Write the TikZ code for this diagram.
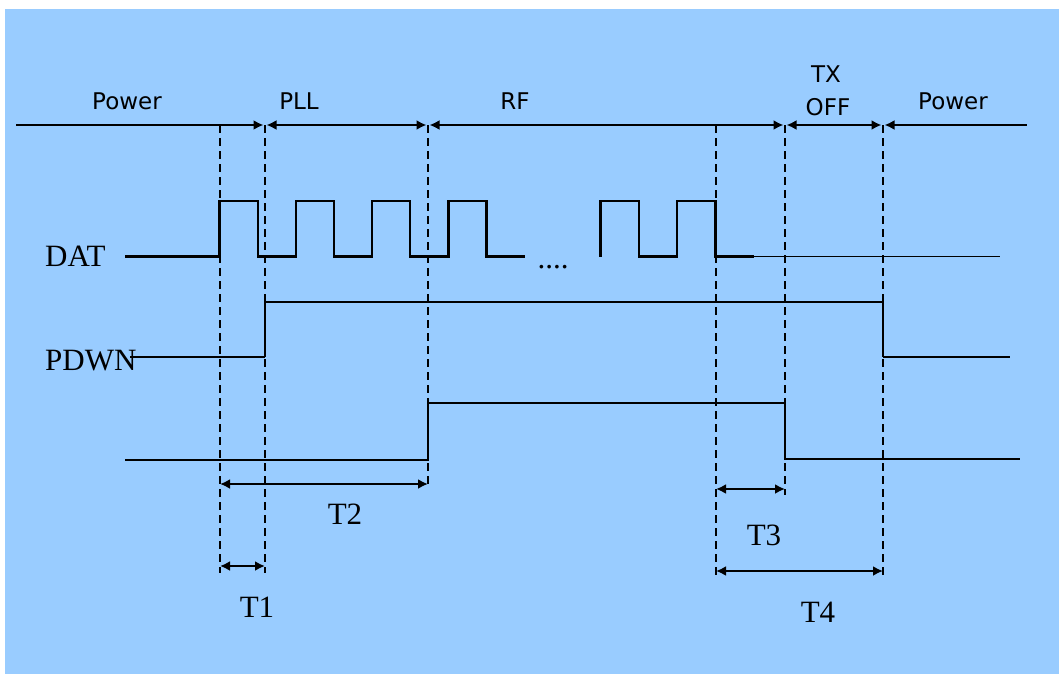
\documentclass[tikz,border=0pt]{standalone}
\usepackage{fontspec}
\setmainfont{Liberation Serif}
\newfontfamily\sansf{DejaVu Sans}
\usetikzlibrary{arrows.meta}
\definecolor{bgblue}{HTML}{99CCFF}
\tikzset{
  wave/.style={line width=2.4pt, line join=miter},
  thinwave/.style={line width=1.8pt, line join=miter},
  axisline/.style={line width=2.8pt, >={Latex[length=10pt,width=10pt]}},
  guide/.style={line width=2.3pt, dash pattern=on 8pt off 5pt},
  dim/.style={line width=2.6pt, >={Latex[length=10pt,width=10pt]}, <->},
  phase/.style={font=\sansf\fontsize{23}{27}\selectfont, anchor=base, inner sep=0pt},
  sig/.style={font=\fontsize{31}{36}\selectfont, anchor=base west, inner sep=0pt},
  tlabel/.style={font=\fontsize{31}{36}\selectfont, anchor=base, inner sep=0pt}
}
\begin{document}
\begin{tikzpicture}[x=1pt,y=-1pt]
\useasboundingbox (0,0) rectangle (1059,674);
\fill[white] (0,0) rectangle (1059,674);
\fill[bgblue] (5,9) rectangle (1059,674);

% dashed guides
\draw[guide] (220,125) -- (220,573);
\draw[guide] (265,125) -- (265,573);
\draw[guide] (428,125) -- (428,488);
\draw[guide] (716,125) -- (716,575);
\draw[guide] (785,125) -- (785,495);
\draw[guide] (883,125) -- (883,575);

% top phase line
\coordinate (p0) at (16,125);
\coordinate (p1l) at (263.5,125); \coordinate (p1r) at (266.5,125);
\coordinate (p2l) at (426.5,125); \coordinate (p2r) at (429.5,125);
\coordinate (p4l) at (783.5,125); \coordinate (p4r) at (786.5,125);
\coordinate (p5l) at (881.5,125); \coordinate (p5r) at (884.5,125);
\coordinate (p6) at (1027,125);
\draw[axisline,->] (p0) -- (p1l);
\draw[axisline,<->] (p1r) -- (p2l);
\draw[axisline,<->] (p2r) -- (p4l);
\draw[axisline,<->] (p4r) -- (p5l);
\draw[axisline,<-] (p5r) -- (p6);

\node[phase] (lpow1) at (127,110) {Power};
\node[phase] (lpll) at (299,110) {PLL};
\node[phase] (lrf) at (515,110) {RF};
\node[phase] (ltx) at (826,83) {TX};
\node[phase] (loff) at (828,115) {OFF};
\node[phase] (lpow2) at (953,110) {Power};

% signal labels
\node[sig] (ldat) at (45,266) {DAT};
\node[sig] (lpdwn) at (45,370) {PDWN};

% DAT waveform
\draw[wave] (125,256.5) -- (219.5,256.5) -- (219.5,201) -- (258,201) -- (258,256.5)
  -- (296,256.5) -- (296,201) -- (334,201) -- (334,256.5)
  -- (372,256.5) -- (372,201) -- (410,201) -- (410,256.5)
  -- (448.5,256.5) -- (448.5,201) -- (486.5,201) -- (486.5,256.5) -- (525,256.5);
\node[tlabel] (dots) at (553,268) {....};
\draw[wave] (600.5,256.5) -- (600.5,201) -- (639,201) -- (639,256.5)
  -- (677,256.5) -- (677,201) -- (715.5,201) -- (715.5,256.5) -- (754,256.5);
\draw[thinwave] (753,256.5) -- (1000,256.5);

% PDWN waveform
\draw[thinwave] (130,357) -- (265,357);
\draw[wave] (265,357) -- (265,302);
\draw[thinwave] (265,302) -- (883,302);
\draw[wave] (883,302) -- (883,357);
\draw[thinwave] (883,357) -- (1010,357);

% third waveform
\draw[wave] (125,460) -- (428,460) -- (428,403) -- (785,403) -- (785,459) -- (1020,459);

% dimension arrows
\coordinate (d2a) at (220,484); \coordinate (d2b) at (428,484);
\coordinate (d1a) at (220,566); \coordinate (d1b) at (265,566);
\coordinate (d3a) at (716,489); \coordinate (d3b) at (785,489);
\coordinate (d4a) at (716,571); \coordinate (d4b) at (883,571);
\draw[dim] (d2a) -- (d2b);
\draw[dim] (d1a) -- (d1b);
\draw[dim] (d3a) -- (d3b);
\draw[dim] (d4a) -- (d4b);

\node[tlabel] (lt2) at (345,524) {T2};
\node[tlabel] (lt1) at (257,617) {T1};
\node[tlabel] (lt3) at (764,545) {T3};
\node[tlabel] (lt4) at (818,622) {T4};
\end{tikzpicture}
\end{document}
